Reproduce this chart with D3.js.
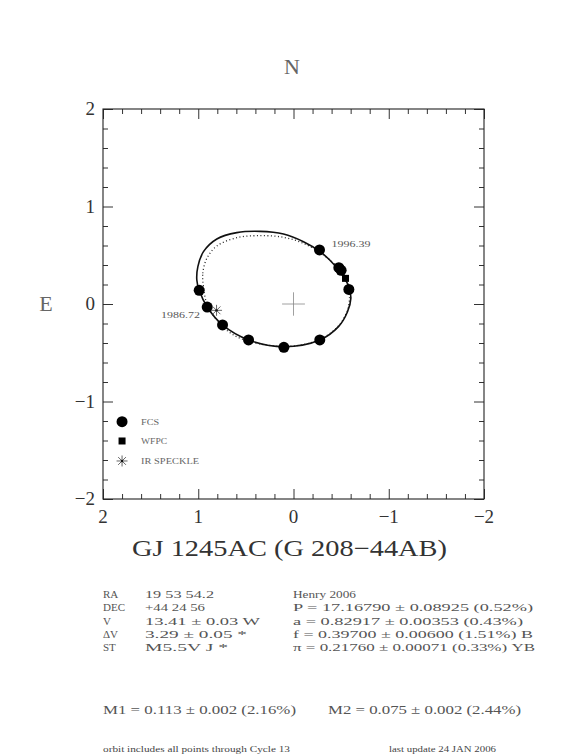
<!DOCTYPE html>
<html lang="en">
<head>
<meta charset="utf-8">
<title>GJ 1245AC orbit</title>
<script src="https://d3js.org/d3.v7.min.js"></script>
<style>
  body { margin: 0; background: #fff; }
  svg text { font-family: "Liberation Serif", "DejaVu Serif", serif; }
</style>
</head>
<body>
<script>
// tick values / labels
var majorTicks = [2, 1, 0, -1, -2];
var tickLabels = ["2", "1", "0", "\u22121", "\u22122"];

// measured positions (arcsec), x is RA offset (east to the left)
var fcs = [[-0.273, 0.554], [-0.476, 0.373], [-0.500, 0.345], [-0.581, 0.150],
           [-0.276, -0.369], [0.101, -0.444], [0.472, -0.369], [0.745, -0.215],
           [0.906, -0.031], [0.990, 0.140]];
var wfpc = [[-0.546, 0.263]];
var speckle = [[0.808, -0.065]];

// fitted orbit
var orbitSolid = [[0.990, 0.140], [0.906, -0.031], [0.745, -0.215], [0.472, -0.369],
  [0.101, -0.438], [-0.276, -0.369], [-0.472, -0.232], [-0.567, -0.079],
  [-0.602, 0.058], [-0.581, 0.178], [-0.525, 0.280], [-0.437, 0.393],
  [-0.280, 0.537], [-0.105, 0.639], [0.105, 0.718], [0.350, 0.745],
  [0.595, 0.732], [0.805, 0.667], [0.945, 0.537], [1.004, 0.383], [1.015, 0.246]];
var orbitDotted = [[0.945, 0.178], [0.952, 0.315], [0.910, 0.468], [0.805, 0.595],
  [0.595, 0.680], [0.350, 0.701], [0.105, 0.684], [-0.105, 0.622],
  [-0.315, 0.503], [-0.472, 0.366], [-0.560, 0.229], [-0.588, 0.092],
  [-0.567, -0.062], [-0.472, -0.226], [-0.280, -0.362], [0, -0.431],
  [0.350, -0.410], [0.630, -0.318], [0.805, -0.164], [0.910, 0.007]];

var epochLabels = [{t: "1996.39", x: -0.40, y: 0.58}, {t: "1986.72", x: 1.39, y: -0.14}];

var legendItems = [{name: "FCS", y: -1.207}, {name: "WFPC", y: -1.405}, {name: "IR SPECKLE", y: -1.61}];

var infoLeftLabels = ["RA", "DEC", "V", "\u0394V", "ST"];
var infoLeftValues = ["19 53 54.2", "+44 24 56", "13.41 \u00b1 0.03 W", "3.29 \u00b1 0.05 *", "M5.5V J *"];
var infoRight = ["Henry 2006", "P = 17.16790 \u00b1 0.08925 (0.52%)", "a = 0.82917 \u00b1 0.00353 (0.43%)",
                 "f = 0.39700 \u00b1 0.00600 (1.51%) B", "\u03c0 = 0.21760 \u00b1 0.00071 (0.33%) YB"];
var infoLeftW = [69, 60, 115, 102, 83];
var infoRightW = [63, 240, 230, 240, 242];
var masses = ["M1 = 0.113 \u00b1 0.002 (2.16%)", "M2 = 0.075 \u00b1 0.002 (2.44%)"];

var outerWidth = 566, outerHeight = 754;
var margin = {top: 109, left: 103};
var width = 381, height = 390;

var svg = d3.select("body").append("svg")
  .attr("width", outerWidth).attr("height", outerHeight);

var g = svg.append("g").attr("transform", "translate(" + margin.left + "," + margin.top + ")");

var x = d3.scaleLinear().domain([2, -2]).range([0, width]);
var y = d3.scaleLinear().domain([-2, 2]).range([height, 0]);

var minorTicks = d3.range(-20, 21, 2).map(function(d) { return d / 10; })
  .filter(function(d) { return Math.abs(d % 1) > 0.01; });

// ticks on all four sides, pointing inward
function addAxis(axisFn, scale, vals, size, tr) {
  var a = g.append("g").attr("transform", tr)
    .call(axisFn(scale).tickValues(vals).tickSize(size).tickSizeOuter(0).tickFormat(""));
  a.select(".domain").remove();
  a.selectAll("line").attr("stroke", "#333").attr("stroke-width", 1);
}
[[majorTicks, 10], [minorTicks, 5]].forEach(function(p) {
  addAxis(d3.axisTop, x, p[0], p[1], "translate(0," + height + ")");
  addAxis(d3.axisBottom, x, p[0], p[1], "translate(0,0)");
  addAxis(d3.axisRight, y, p[0], p[1], "translate(0,0)");
  addAxis(d3.axisLeft, y, p[0], p[1], "translate(" + width + ",0)");
});

g.append("rect").attr("width", width).attr("height", height)
  .attr("fill", "none").attr("stroke", "#222").attr("stroke-width", 1.1);

// tick labels
g.selectAll(".xl").data(majorTicks).enter().append("text")
  .attr("x", function(d) { return x(d); }).attr("y", height + 24)
  .attr("text-anchor", "middle").attr("font-size", 19).attr("fill", "#333")
  .text(function(d, i) { return tickLabels[i]; });
g.selectAll(".yl").data(majorTicks).enter().append("text")
  .attr("x", -8).attr("y", function(d) { return y(d) + 6; })
  .attr("text-anchor", "end").attr("font-size", 19).attr("fill", "#333")
  .text(function(d, i) { return tickLabels[i]; });

// centre cross
g.append("line").attr("x1", x(0.12)).attr("x2", x(-0.12)).attr("y1", y(0)).attr("y2", y(0))
  .attr("stroke", "#888").attr("stroke-width", 0.8);
g.append("line").attr("x1", x(0)).attr("x2", x(0)).attr("y1", y(0.12)).attr("y2", y(-0.12))
  .attr("stroke", "#888").attr("stroke-width", 0.8);

var line = d3.line().x(function(d) { return x(d[0]); }).y(function(d) { return y(d[1]); })
  .curve(d3.curveCatmullRomClosed.alpha(0.5));

g.append("path").attr("d", line(orbitDotted)).attr("fill", "none")
  .attr("stroke", "#222").attr("stroke-width", 1.3).attr("stroke-dasharray", "1,2.5");
g.append("path").attr("d", line(orbitSolid)).attr("fill", "none")
  .attr("stroke", "#111").attr("stroke-width", 1.6);

// markers
function star(sel, cx, cy, r) {
  [0, 45, 90, 135].forEach(function(a) {
    var rad = a * Math.PI / 180;
    sel.append("line")
      .attr("x1", cx - r * Math.cos(rad)).attr("y1", cy - r * Math.sin(rad))
      .attr("x2", cx + r * Math.cos(rad)).attr("y2", cy + r * Math.sin(rad))
      .attr("stroke", "#555").attr("stroke-width", 0.9);
  });
  sel.append("circle").attr("cx", cx).attr("cy", cy).attr("r", 1.2).attr("fill", "#111");
}

g.selectAll(".fcs").data(fcs).enter().append("circle")
  .attr("cx", function(d) { return x(d[0]); }).attr("cy", function(d) { return y(d[1]); })
  .attr("r", 5.5).attr("fill", "#000");
g.selectAll(".wfpc").data(wfpc).enter().append("rect")
  .attr("x", function(d) { return x(d[0]) - 3.5; }).attr("y", function(d) { return y(d[1]) - 3.5; })
  .attr("width", 7).attr("height", 7).attr("fill", "#000");
speckle.forEach(function(d) { star(g, x(d[0]), y(d[1]), 5.5); });

g.selectAll(".ep").data(epochLabels).enter().append("text")
  .attr("x", function(d) { return x(d.x); }).attr("y", function(d) { return y(d.y); })
  .attr("font-size", 9).attr("fill", "#555").attr("textLength", 39).attr("lengthAdjust", "spacingAndGlyphs")
  .text(function(d) { return d.t; });

// legend
var legX = 1.80;
g.append("circle").attr("cx", x(legX)).attr("cy", y(legendItems[0].y)).attr("r", 5.5).attr("fill", "#000");
g.append("rect").attr("x", x(legX) - 3.5).attr("y", y(legendItems[1].y) - 3.5)
  .attr("width", 7).attr("height", 7).attr("fill", "#000");
star(g, x(legX), y(legendItems[2].y), 5.5);
var legW = [18, 26, 58];
g.selectAll(".lg").data(legendItems).enter().append("text")
  .attr("x", x(1.60)).attr("y", function(d) { return y(d.y) + 3; })
  .attr("font-size", 8.5).attr("fill", "#666")
  .attr("textLength", function(d, i) { return legW[i]; }).attr("lengthAdjust", "spacingAndGlyphs")
  .text(function(d) { return d.name; });

// compass letters
svg.append("text").attr("x", 292).attr("y", 74).attr("text-anchor", "middle")
  .attr("font-size", 22).attr("fill", "#666").text("N");
svg.append("text").attr("x", 46).attr("y", 311).attr("text-anchor", "middle")
  .attr("font-size", 22).attr("fill", "#666").text("E");

// title
svg.append("text").attr("x", 132).attr("y", 556)
  .attr("font-size", 23).attr("fill", "#333")
  .attr("textLength", 315).attr("lengthAdjust", "spacingAndGlyphs")
  .text("GJ 1245AC (G 208\u221244AB)");

// info block
var rowY = [598, 611, 625, 638, 651];
var info = svg.append("g").attr("font-size", 11).attr("fill", "#555");
infoLeftLabels.forEach(function(t, i) {
  info.append("text").attr("x", 103).attr("y", rowY[i]).text(t);
  info.append("text").attr("x", 145).attr("y", rowY[i])
    .attr("textLength", infoLeftW[i]).attr("lengthAdjust", "spacingAndGlyphs").text(infoLeftValues[i]);
  info.append("text").attr("x", 293).attr("y", rowY[i])
    .attr("textLength", infoRightW[i]).attr("lengthAdjust", "spacingAndGlyphs").text(infoRight[i]);
});
info.append("text").attr("x", 103).attr("y", 714).attr("font-size", 12.5)
  .attr("textLength", 193).attr("lengthAdjust", "spacingAndGlyphs").text(masses[0]);
info.append("text").attr("x", 328).attr("y", 714).attr("font-size", 12.5)
  .attr("textLength", 193).attr("lengthAdjust", "spacingAndGlyphs").text(masses[1]);

// footer
svg.append("text").attr("x", 103).attr("y", 752).attr("font-size", 7.5).attr("fill", "#444")
  .attr("textLength", 187).attr("lengthAdjust", "spacingAndGlyphs")
  .text("orbit includes all points through Cycle 13");
svg.append("text").attr("x", 389).attr("y", 752).attr("font-size", 7.5).attr("fill", "#444")
  .attr("textLength", 107).attr("lengthAdjust", "spacingAndGlyphs")
  .text("last update 24 JAN 2006");
</script>
</body>
</html>
